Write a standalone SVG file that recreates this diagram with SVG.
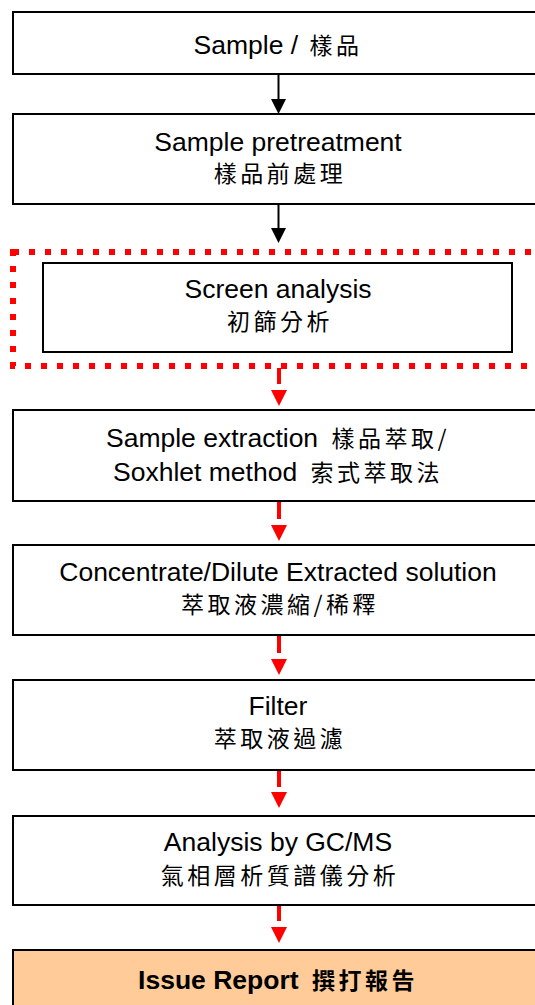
<svg xmlns="http://www.w3.org/2000/svg" width="535" height="1005" viewBox="0 0 535 1005">
<style>
.box{fill:#fff;stroke:#000;stroke-width:2}
.report{fill:#FFCC99;stroke:#000;stroke-width:2}
.t{font-family:"Liberation Sans",Arial,sans-serif;font-size:26.5px;fill:#000;text-anchor:middle}
.c{font-family:"Noto Sans CJK TC","Noto Sans CJK SC",sans-serif;font-size:23px;letter-spacing:3.5px}
.b{font-weight:bold}
.blk{stroke:#000;stroke-width:2}
.red{stroke:#FF0000;stroke-width:4}
.dot{fill:none;stroke:#FF0000;stroke-width:6;stroke-dasharray:6 10}
</style>
<rect width="535" height="1005" fill="#fff"/>
<g id="screen-frame">
<rect class="dot" x="13" y="252" width="560" height="114"/>
</g>
<g id="n1"><rect class="box" x="13" y="12" width="530" height="62"/>
<text class="t" x="278" y="54">Sample / <tspan class="c" dx="4">樣品</tspan></text></g>
<g id="n2"><rect class="box" x="13" y="114" width="530" height="90"/>
<text class="t" x="278" y="151">Sample pretreatment</text>
<text class="t c" x="280" y="182">樣品前處理</text></g>
<g id="n3"><rect class="box" x="43" y="263" width="469" height="89"/>
<text class="t" x="278" y="298">Screen analysis</text>
<text class="t c" x="280" y="330">初篩分析</text></g>
<g id="n4"><rect class="box" x="13" y="410" width="530" height="91"/>
<text class="t" x="278" y="447">Sample extraction <tspan class="c" dx="6">樣品萃取/</tspan></text>
<text class="t" x="278" y="481">Soxhlet method <tspan class="c" dx="6">索式萃取法</tspan></text></g>
<g id="n5"><rect class="box" x="13" y="545" width="530" height="90"/>
<text class="t" x="278" y="581">Concentrate/Dilute Extracted solution</text>
<text class="t c" x="280" y="613">萃取液濃縮/稀釋</text></g>
<g id="n6"><rect class="box" x="13" y="680" width="530" height="90"/>
<text class="t" x="278" y="715">Filter</text>
<text class="t c" x="280" y="747">萃取液過濾</text></g>
<g id="n7"><rect class="box" x="13" y="816" width="530" height="89"/>
<text class="t" x="278" y="851">Analysis by GC/MS</text>
<text class="t c" x="280" y="884">氣相層析質譜儀分析</text></g>
<g id="n8"><rect class="report" x="13" y="950" width="530" height="70"/>
<text class="t b" x="278" y="989">Issue Report <tspan class="c" dx="6">撰打報告</tspan></text></g>
<g id="connectors">
<line class="blk" x1="278.5" y1="75" x2="278.5" y2="100"/>
<polygon points="271,99 286,99 278.5,114"/>
<line class="blk" x1="278.5" y1="205" x2="278.5" y2="229"/>
<polygon points="271,228 286,228 278.5,243"/>
<line class="red" x1="279" y1="368" x2="279" y2="384"/>
<polygon fill="#FF0000" points="271,390 287,390 279,406"/>
<line class="red" x1="279" y1="502" x2="279" y2="519"/>
<polygon fill="#FF0000" points="271,525 287,525 279,541"/>
<line class="red" x1="279" y1="636" x2="279" y2="653"/>
<polygon fill="#FF0000" points="271,659 287,659 279,675"/>
<line class="red" x1="279" y1="771" x2="279" y2="787"/>
<polygon fill="#FF0000" points="271,792 287,792 279,808"/>
<line class="red" x1="279" y1="906" x2="279" y2="921"/>
<polygon fill="#FF0000" points="271,927 287,927 279,943"/>
</g>
</svg>
